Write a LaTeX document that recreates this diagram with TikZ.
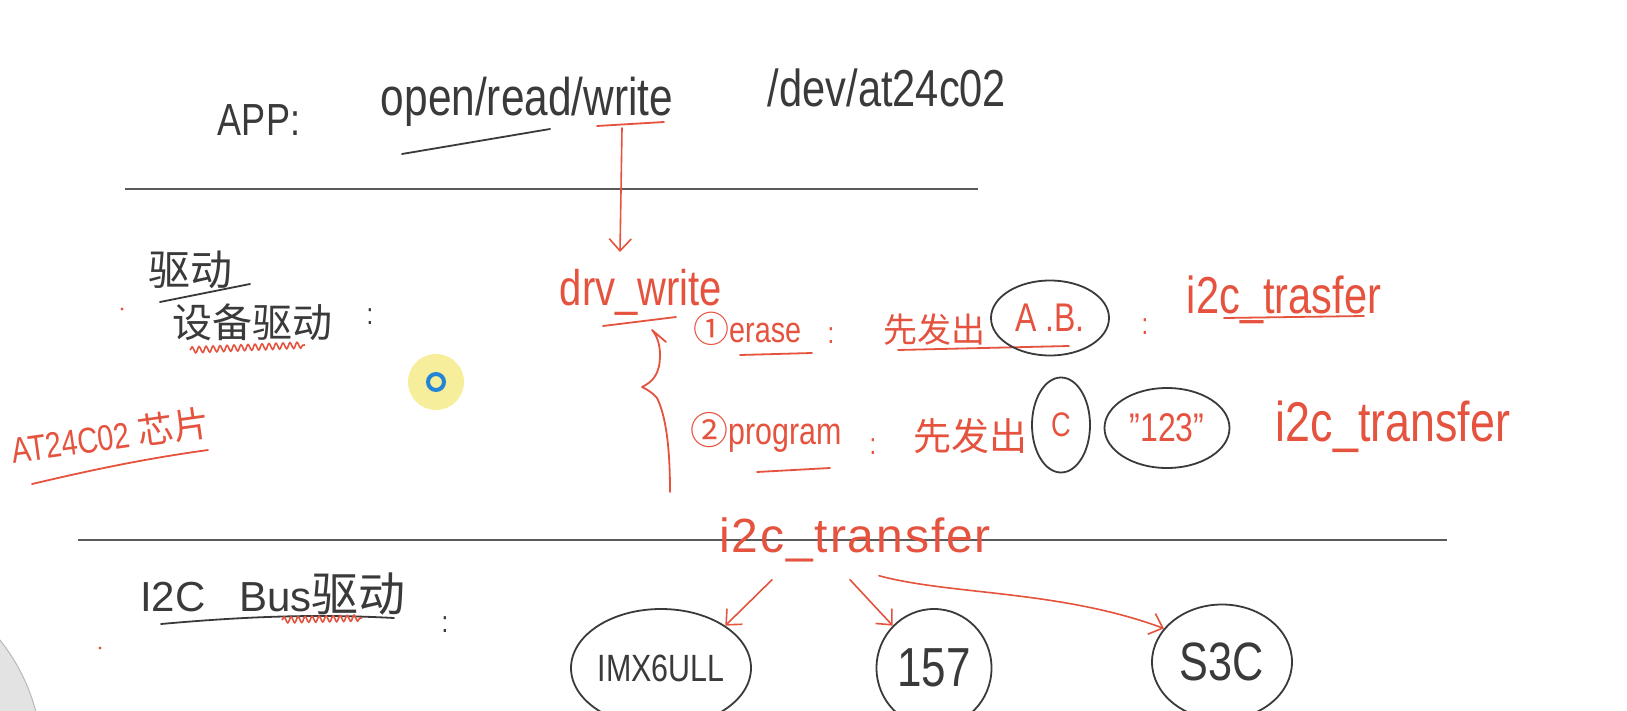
\documentclass[tikz,border=0pt]{standalone}
\usepackage{fontspec}
\setmainfont{Liberation Sans}[FakeStretch=0.8]
\newfontfamily\wide{Liberation Sans}
\newfontfamily\cjk{Noto Sans CJK SC}
\usetikzlibrary{arrows.meta,decorations.pathmorphing,shapes.geometric,calc}
\definecolor{ink}{HTML}{3A3A3A}
\definecolor{pen}{HTML}{E5533F}
\definecolor{rulecol}{HTML}{5A5A5A}
\definecolor{hl}{HTML}{F6EE9A}
\definecolor{ring}{HTML}{2385D6}
\tikzset{
  blk/.style={text=ink,inner sep=0pt,font=\fontsize{#1pt}{#1pt}\selectfont},
  redt/.style={text=pen,inner sep=0pt,font=\fontsize{#1pt}{#1pt}\selectfont},
  cjkblk/.style={text=ink,inner sep=0pt,font=\cjk\fontsize{#1pt}{#1pt}\selectfont},
  cjkred/.style={text=pen,inner sep=0pt,font=\cjk\fontsize{#1pt}{#1pt}\selectfont},
  rul/.style={draw=rulecol,line width=2.2pt},
  inkl/.style={draw=ink,line width=1.8pt,line cap=round},
  redl/.style={draw=pen,line width=1.8pt,line cap=round,line join=round},
  redsq/.style={draw=pen,line width=1.6pt,decorate,decoration={snake,amplitude=3pt,segment length=7pt}},
  redarr/.style={draw=pen,line width=1.6pt,line cap=round,-{Straight Barb[length=12pt,width=22pt,line width=1.6pt]}},
  loop/.style={ellipse,draw=ink,line width=1.8pt},
}
\begin{document}
\begin{tikzpicture}[x=1pt,y=-1pt]
\useasboundingbox (0,0) rectangle (1627,711);
\fill[white] (0,0) rectangle (1627,711);
\begin{scope}
  \clip (0,0) rectangle (1627,711);
  \fill[gray!22,draw=gray!55,line width=1pt] (-150,760) circle[radius=192];
\end{scope}

% top layer
\node[blk=45] (app) at (259,120) {APP:};
\node[blk=53] (ops) at (527,102) {open/read/write};
\node[blk=52] (dev) at (887,88) {/dev/at24c02};
\draw[inkl] (402,154) -- (550,129);
\draw[redl] (597,126) -- (664,122);
\draw[rul] (125,189) -- (978,189);

% driver label
\node[cjkblk=42] (qd) at (190,270) {驱动};
\draw[inkl] (160,302) -- (250,284);
\node[cjkblk=40] (sbqd) at (252,322) {设备驱动};
\node[blk=30] (col0) at (370,317) {:};
\draw[redsq] (190,350) -- (305,345);
\fill[pen] (122,309) circle[radius=1.6];

\node[redt=36,rotate=8] (chip) at (110,436) {AT24C02 {\cjk 芯片}};
\draw[redl] (32,484) .. controls (100,468) and (150,458) .. (208,450);

% cursor highlight
\fill[hl] (436,382) circle[radius=28];
\draw[ring,line width=4pt] (436,382) circle[radius=8];

% drv_write
\node[redt=50] (drvw) at (641,292) {drv\_write};
\coordinate (w) at (622,128);
\coordinate (wt) at (620,252);
\draw[redarr] (w) -- (wt);
\draw[redl] (603,326) -- (676,317);
\coordinate (bt) at (652,330);
\coordinate (bb) at (670,492);
\draw[redl] (bb) .. controls (670,460) and (668,420) .. (657,398) .. controls (652,392) and (646,389) .. (642,387) .. controls (652,382) and (660,375) .. (660,355) .. controls (660,344) and (657,336) .. (bt) -- (666,342);

% erase row
\node[redt=36,anchor=west] (erase) at (693,329) {{\cjk ①}erase};
\draw[redl] (740,355) -- (812,353);
\node[redt=30] (col1) at (831,336) {:};
\node[cjkred=34] (xf1) at (934,330) {先发出};
\draw[redl] (898,350) -- (1069,346);
\node[redt=40,loop,minimum width=118,minimum height=75] (ab) at (1050,318) {A\ .B.};
\node[redt=30] (col2) at (1145,327) {:};
\node[redt=52] (tr1) at (1284,300) {i2c\_trasfer};
\draw[redl] (1224,318) -- (1364,316);

% program row
\node[redt=38,anchor=west] (prog) at (690,432) {{\cjk ②}program};
\draw[redl] (757,472) -- (830,468);
\node[redt=30] (col3) at (873,447) {:};
\node[cjkred=38] (xf2) at (970,436) {先发出};
\node[redt=34,loop,minimum width=58,minimum height=95] (cc) at (1061,425) {C};
\node[redt=40,loop,minimum width=125,minimum height=80] (n123) at (1167,428) {"123"};
\node[redt=56] (tr2) at (1393,427) {i2c\_transfer};

% bus layer
\draw[rul] (78,540) -- (1447,540);
\node[text=pen,inner sep=0pt,anchor=base,font=\wide\fontsize{48pt}{48pt}\selectfont\addfontfeature{LetterSpace=4}] (tr3) at (855,552) {i2c\_transfer};
\node[text=ink,inner sep=0pt,anchor=west,font=\wide\fontsize{42pt}{42pt}\selectfont] (bus) at (140,594) {I2C\hspace{34pt}Bus{\cjk\fontsize{47pt}{47pt}\selectfont 驱动}};
\draw[inkl] (161,624) .. controls (250,616) and (320,614) .. (394,618);
\draw[redsq] (282,620) -- (362,618);
\node[blk=30] (col4) at (445,625) {:};
\fill[pen] (100,648) circle[radius=1.6];

\node[blk=38,loop,minimum width=180,minimum height=118] (imx) at (661,668) {IMX6ULL};
\node[blk=55,loop,minimum width=115,minimum height=118] (n157) at (934,668) {157};
\node[blk=54,loop,minimum width=140,minimum height=115] (s3c) at (1222,662) {S3C};

\draw[redarr] ($(tr3.south)+(-83,18)$) -- (imx.north east);
\draw[redarr] ($(tr3.south)+(-5,18)$) -- (n157.north west);
\draw[redarr] ($(tr3.south)+(24,14)$) .. controls (950,595) and (1060,590) .. (s3c.150);
\end{tikzpicture}
\end{document}
